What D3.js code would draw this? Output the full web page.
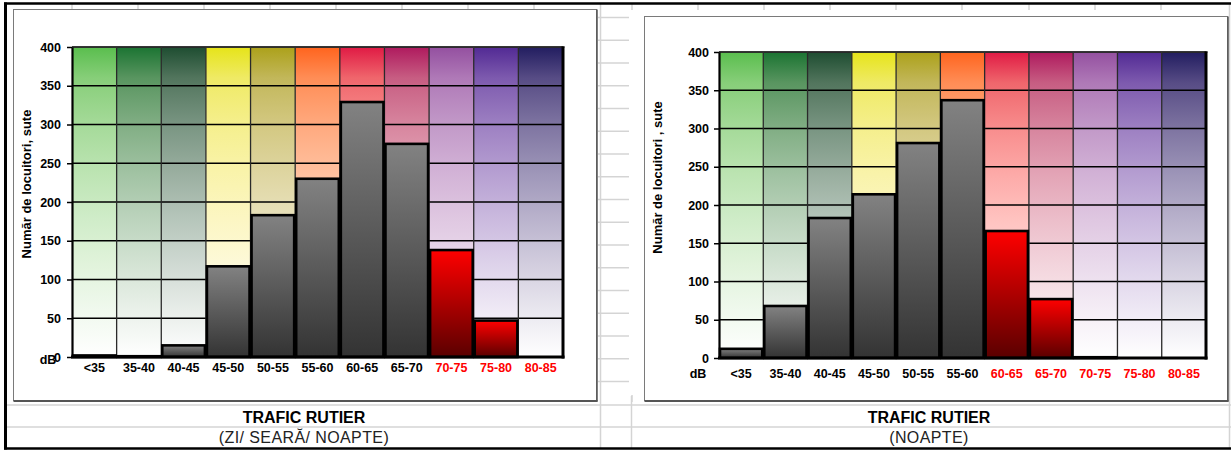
<!DOCTYPE html>
<html><head><meta charset="utf-8">
<script src="https://cdn.jsdelivr.net/npm/d3@7"></script>
<style>body{margin:0;background:#fff}svg{display:block}</style>
</head><body><svg id="c" width="1231" height="450"></svg>
<script>
// ---- data ----
const categories = ["<35","35-40","40-45","45-50","50-55","55-60","60-65","65-70","70-75","75-80","80-85"];
const valuesZiSearaNoapte = [2,1,15,117,183,230,329,275,138,47,0];
const valuesNoapte = [12,68,183,214,281,337,166,77,1,0,0];
const columnColors = ["#5abe4e","#1b7432","#1e4d31","#e6e419","#aca11a","#ff641e","#e01a44","#af1a5e","#9450a0","#522a94","#221d60"];
const yTicks = [0,50,100,150,200,250,300,350,400];
const yTitleLeft = "Număr de locuitori, sute";
const yTitleRight = "Număr de locuitori , sute";
const mainTitle = "TRAFIC RUTIER";
const subTitleLeft = "(ZI/ SEARĂ/ NOAPTE)";
const subTitleRight = "(NOAPTE)";
const redFromLeft = "70-75";
const redFromRight = "60-65";

const svg = d3.select("#c");
const FONT = "'Liberation Sans', Arial, sans-serif";

// ---- defs ----
const defs = svg.append("defs");
columnColors.forEach((c, i) => {
  const lg = defs.append("linearGradient").attr("id", "col" + i)
    .attr("x1", 0).attr("y1", 0).attr("x2", 0).attr("y2", 1);
  const offs = [0, 0.1, 0.25, 0.4, 0.55, 0.7, 0.85, 1];
  offs.forEach(o => {
    const f = Math.pow(o, 0.62);
    lg.append("stop").attr("offset", o).attr("stop-color", d3.interpolateLab(c, "#ffffff")(f));
  });
});
function barGrad(id, top, bottom) {
  const lg = defs.append("linearGradient").attr("id", id)
    .attr("x1", 0).attr("y1", 0).attr("x2", 0).attr("y2", 1);
  lg.append("stop").attr("offset", 0).attr("stop-color", top);
  lg.append("stop").attr("offset", 1).attr("stop-color", bottom);
}
barGrad("barGrey", "#828282", "#333333");
barGrad("barRed", "#ff0000", "#5a0000");

// ---- spreadsheet background ----
svg.append("rect").attr("width", 1231).attr("height", 450).attr("fill", "#fff");
const sheet = svg.append("g").attr("stroke", "#d4d4d4").attr("stroke-width", 1.5);
d3.range(17).forEach(k => {
  const yy = 17.5 + 22.75 * k;
  sheet.append("line").attr("x1", 598).attr("x2", 629).attr("y1", yy).attr("y2", yy);
});
sheet.append("line").attr("x1", 6).attr("x2", 1231).attr("y1", 405).attr("y2", 405);
sheet.append("line").attr("x1", 6).attr("x2", 1231).attr("y1", 427).attr("y2", 427);
sheet.append("line").attr("x1", 600.5).attr("x2", 600.5).attr("y1", 4).attr("y2", 449);
sheet.append("line").attr("x1", 631.5).attr("x2", 631.5).attr("y1", 396).attr("y2", 449);
sheet.append("line").attr("x1", 1229.5).attr("x2", 1229.5).attr("y1", 4).attr("y2", 449);
const colStubsLeft = [72,138,204,270,336,402,468,534];
const colStubsRight = [632,698,764,830,896,962,1029,1095,1161];
colStubsLeft.concat(colStubsRight).forEach(xx => {
  sheet.append("line").attr("x1", xx).attr("x2", xx).attr("y1", 4).attr("y2", 10);
  sheet.append("line").attr("x1", xx).attr("x2", xx).attr("y1", 395).attr("y2", 402);
});

// ---- chart ----
function drawChart(cfg) {
  const g = svg.append("g");
  g.append("rect").attr("x", cfg.fx).attr("y", cfg.fy).attr("width", cfg.fw).attr("height", cfg.fh)
    .attr("fill", "#fff").attr("stroke", "#7a7a7a").attr("stroke-width", 1);
  g.append("line").attr("x1", cfg.fx).attr("x2", cfg.fx + cfg.fw + 1).attr("y1", cfg.fy + cfg.fh + 0.5).attr("y2", cfg.fy + cfg.fh + 0.5)
    .attr("stroke", "#555").attr("stroke-width", 2);
  g.append("line").attr("x1", cfg.fx + cfg.fw + 0.5).attr("x2", cfg.fx + cfg.fw + 0.5).attr("y1", cfg.fy).attr("y2", cfg.fy + cfg.fh + 1)
    .attr("stroke", "#555").attr("stroke-width", 1.5);

  const x = d3.scaleBand().domain(categories).range([cfg.px0, cfg.px1]).padding(0);
  const y = d3.scaleLinear().domain([0, 400]).range([cfg.pyB, cfg.pyT]);
  const redIdx = categories.indexOf(cfg.redFrom);

  g.selectAll("rect.bg").data(categories).join("rect")
    .attr("x", d => x(d)).attr("y", y(400))
    .attr("width", x.bandwidth()).attr("height", y(0) - y(400))
    .attr("fill", (d, i) => `url(#col${i})`);

  g.selectAll("line.hg").data(yTicks.filter(v => v > 0)).join("line")
    .attr("x1", cfg.px0).attr("x2", cfg.px1).attr("y1", d => y(d)).attr("y2", d => y(d))
    .attr("stroke", "#000").attr("stroke-width", 1.3);
  g.selectAll("line.vg").data(categories.slice(1)).join("line")
    .attr("x1", d => x(d)).attr("x2", d => x(d)).attr("y1", y(400)).attr("y2", y(0))
    .attr("stroke", "#2a2a2a").attr("stroke-width", 1.3);

  const barData = categories.map((c, i) => ({ c, v: cfg.values[i], i })).filter(d => d.v > 0);
  g.selectAll("rect.bar").data(barData).join("rect")
    .attr("x", d => x(d.c) + 1).attr("y", d => y(d.v))
    .attr("width", x.bandwidth() - 2).attr("height", d => y(0) - y(d.v))
    .attr("fill", d => d.i >= redIdx ? "url(#barRed)" : "url(#barGrey)")
    .attr("stroke", "#000").attr("stroke-width", 2.6);

  g.append("line").attr("x1", cfg.px0).attr("x2", cfg.px1 + 1.5).attr("y1", cfg.pyT).attr("y2", cfg.pyT)
    .attr("stroke", "#333").attr("stroke-width", 1.5);
  g.append("line").attr("x1", cfg.px1).attr("x2", cfg.px1).attr("y1", cfg.pyT - 0.5).attr("y2", cfg.pyB + 1.5)
    .attr("stroke", "#000").attr("stroke-width", 3);

  const ya = g.append("g").attr("transform", `translate(${cfg.px0},0)`)
    .call(d3.axisLeft(y).tickValues(yTicks).tickSize(5).tickSizeOuter(0).tickPadding(cfg.yPad));
  ya.select(".domain").attr("stroke", "#000").attr("stroke-width", 2.2);
  ya.selectAll(".tick line").attr("stroke", "#000").attr("stroke-width", 1.5);
  ya.selectAll("text").attr("font-family", FONT).attr("font-weight", "bold").attr("font-size", 12.5).attr("fill", "#000");

  g.append("line").attr("x1", cfg.px0 - 1).attr("x2", cfg.px1 + 1.5).attr("y1", cfg.pyB).attr("y2", cfg.pyB)
    .attr("stroke", "#000").attr("stroke-width", 3);
  const xa = g.append("g").attr("transform", `translate(0,${cfg.pyB})`)
    .call(d3.axisBottom(x).tickSize(0).tickPadding(cfg.xPad));
  xa.select(".domain").remove();
  xa.selectAll("text").attr("font-family", FONT).attr("font-weight", "bold").attr("font-size", 12.5)
    .attr("fill", (d) => categories.indexOf(d) >= redIdx ? "#ff0000" : "#000");

  g.append("text").attr("x", cfg.dbX).attr("y", cfg.dbY).attr("text-anchor", "middle")
    .attr("font-family", FONT).attr("font-weight", "bold").attr("font-size", 12.5).text("dB");

  g.append("text").attr("transform", `translate(${cfg.tX},${cfg.tY}) rotate(-90)`)
    .attr("text-anchor", "middle").attr("font-family", FONT).attr("font-weight", "bold").attr("font-size", 13)
    .text(cfg.yTitle);

  svg.append("text").attr("x", cfg.footX).attr("y", 422.5).attr("text-anchor", "middle")
    .attr("font-family", FONT).attr("font-weight", "bold").attr("font-size", 16).text(mainTitle);
  svg.append("text").attr("x", cfg.footX).attr("y", 442.5).attr("text-anchor", "middle")
    .attr("font-family", FONT).attr("font-size", 16).attr("letter-spacing", 0.4).attr("fill", "#222").text(cfg.sub);
}

drawChart({
  fx: 13.5, fy: 9.5, fw: 583, fh: 391,
  px0: 72, px1: 563, pyT: 47, pyB: 357,
  values: valuesZiSearaNoapte, redFrom: redFromLeft,
  yPad: 6, xPad: 6.5, dbX: 48, dbY: 364, tX: 31, tY: 184,
  yTitle: yTitleLeft, footX: 304, sub: subTitleLeft
});
drawChart({
  fx: 644.5, fy: 16.5, fw: 583, fh: 384,
  px0: 719, px1: 1206, pyT: 52, pyB: 358,
  values: valuesNoapte, redFrom: redFromRight,
  yPad: 5, xPad: 11.5, dbX: 698, dbY: 378, tX: 662, tY: 177.5,
  yTitle: yTitleRight, footX: 929, sub: subTitleRight
});

svg.append("line").attr("x1", 4).attr("x2", 1231).attr("y1", 3.5).attr("y2", 3.5).attr("stroke", "#000").attr("stroke-width", 2.5);
svg.append("line").attr("x1", 5.5).attr("x2", 5.5).attr("y1", 2.5).attr("y2", 449.5).attr("stroke", "#000").attr("stroke-width", 3);
svg.append("line").attr("x1", 4).attr("x2", 1231).attr("y1", 448.5).attr("y2", 448.5).attr("stroke", "#000").attr("stroke-width", 2.5);
</script></body></html>
